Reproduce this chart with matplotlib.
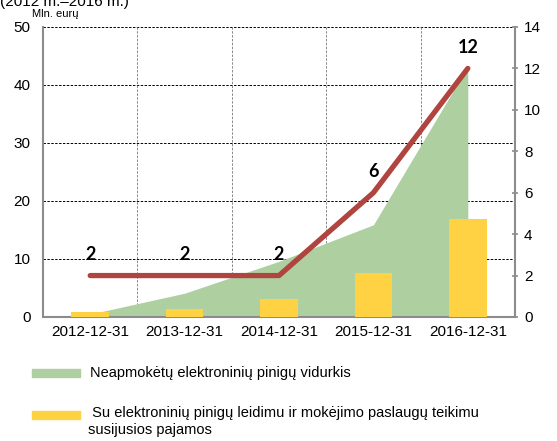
import matplotlib.pyplot as plt
import matplotlib.patches as mpatches
import numpy as np

# duomenys
datos = ['2012-12-31', '2013-12-31', '2014-12-31', '2015-12-31', '2016-12-31']
vidurkis = [0.5, 4.1, 9.6, 15.9, 43.2]      # Mln. eur, plotas
pajamos = [0.8, 1.4, 3.1, 7.6, 16.9]        # Mln. eur, stulpeliai
skaicius = [2, 2, 2, 6, 12]                 # desine asis, linija

zalia = '#AED0A0'
geltona = '#FFD243'
raudona = '#B0443F'
pilka = '#8C8C8C'

plt.rcParams['font.family'] = ['Liberation Sans', 'DejaVu Sans']

fig = plt.figure(figsize=(5.57, 4.41), dpi=100)
ax = fig.add_axes([0.0772, 0.2812, 0.8474, 0.6576])
x = np.arange(len(datos))

ax.fill_between(x, 0, vidurkis, color=zalia, linewidth=0, zorder=2)
ax.bar(x, pajamos, width=0.4, color=geltona, zorder=3)
ax.set_ylim(0, 50)
ax.set_xlim(-0.5, len(datos) - 0.5)
ax.set_yticks(range(0, 51, 10))
ax.set_xticks(x)
ax.set_xticklabels(datos)

# tinklelis
for yv in range(10, 51, 10):
    ax.axhline(yv, color='black', lw=0.7, ls=(0, (2.5, 1.5)), zorder=1)
for xv in x[:-1] + 0.5:
    ax.axvline(xv, color='#888888', lw=0.7, ls=(0, (2.5, 1.5)), zorder=1)

ax.spines['top'].set_visible(False)
ax.spines['right'].set_visible(False)
ax.spines['left'].set_color(pilka)
ax.spines['bottom'].set_color(pilka)
ax.spines['left'].set_linewidth(1.5)
ax.spines['bottom'].set_linewidth(1.5)
ax.tick_params(axis='x', length=0, labelsize=11, pad=6)
ax.tick_params(axis='y', length=0, labelsize=11, pad=9)

ax2 = ax.twinx()
ax2.plot(x, skaicius, color=raudona, lw=3.8, solid_capstyle='round', zorder=5)
ax2.set_ylim(0, 14)
ax2.set_yticks(range(0, 15, 2))
for s in ['top', 'left', 'bottom']:
    ax2.spines[s].set_visible(False)
ax2.spines['right'].set_color(pilka)
ax2.spines['right'].set_linewidth(1.5)
ax2.tick_params(axis='y', length=5, width=1.2, color=pilka, direction='inout',
                labelsize=11, pad=4)

for xi, v in zip(x, skaicius):
    ax2.annotate(str(v), (xi, v), xytext=(0, 9), textcoords='offset points',
                 ha='center', va='bottom', fontsize=13, fontweight='bold',
                 family=['Lato', 'DejaVu Sans'])

fig.text(0.0, 0.996, '(2012 m.–2016 m.)', fontsize=11, va='center', ha='left')
fig.text(0.057, 0.968, 'Mln. eurų', fontsize=8, va='center', ha='left')

# legenda
fig.add_artist(mpatches.Rectangle((32 / 557, 1 - 377 / 441), 48 / 557, 8 / 441,
                                  color=zalia, transform=fig.transFigure))
fig.text(90 / 557, 1 - 373 / 441, 'Neapmokėtų elektroninių pinigų vidurkis',
         fontsize=10.5, va='center')
fig.add_artist(mpatches.Rectangle((32 / 557, 1 - 419 / 441), 48 / 557, 8 / 441,
                                  color=geltona, transform=fig.transFigure))
fig.text(88 / 557, 1 - 406 / 441,
         ' Su elektroninių pinigų leidimu ir mokėjimo paslaugų teikimu\nsusijusios pajamos',
         fontsize=10.5, va='top', linespacing=1.3)

plt.savefig('out.png', dpi=100)
